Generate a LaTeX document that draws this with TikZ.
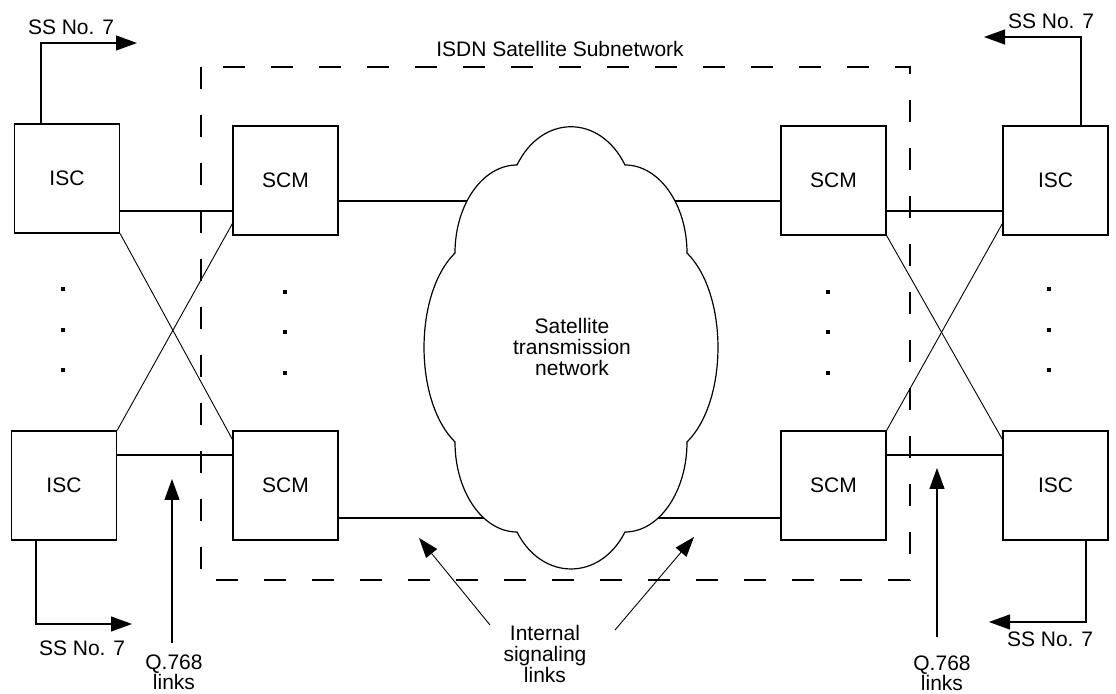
\documentclass[tikz,border=0pt]{standalone}
\usepackage{fontspec}
\setmainfont{Liberation Sans}
\usetikzlibrary{arrows.meta,backgrounds}

\begin{document}
\begin{tikzpicture}[x=0.5pt,y=-0.5pt,
  font=\fontsize{10.5pt}{10.4pt}\selectfont,
  unit/.style={draw,line width=0.65pt,minimum width=52.5pt,minimum height=54.5pt,inner sep=0pt},
  link/.style={line width=0.6pt},
  cross/.style={line width=0.45pt},
  sig/.style={line width=0.6pt,-{Triangle[length=10.5pt,width=7.5pt]}},
  note/.style={line width=0.45pt,-{Triangle[length=10pt,width=7pt]}},
  lbl/.style={inner sep=0pt,align=center},
  subnet/.style={line width=0.65pt,dash pattern=on 11pt off 13pt},
  cloudline/.style={line width=0.6pt,fill=white}
]
\useasboundingbox (0,0) rectangle (1116,694);

% subnetwork boundary and its title
\draw[subnet] (201,67) -- (201,580) -- (910,580) -- (910,67) -- cycle;
\node[lbl,anchor=base] (title) at (560,57) {ISDN Satellite Subnetwork};

% switching centres and satellite control modules
\node[unit] (iscTL) at (67,178.5)   {ISC};
\node[unit] (scmTL) at (285.5,180.5) {SCM};
\node[unit] (iscBL) at (64,485.5)   {ISC};
\node[unit] (scmBL) at (285.5,485.5) {SCM};
\node[unit] (scmTR) at (833.5,180.5) {SCM};
\node[unit] (iscTR) at (1055.5,180.5) {ISC};
\node[unit] (scmBR) at (833.5,485.5) {SCM};
\node[unit] (iscBR) at (1055.5,485.5) {ISC};

% rows of the horizontal links
\coordinate (rowA) at (0,211);
\coordinate (rowB) at (0,201);
\coordinate (rowC) at (0,455);
\coordinate (rowD) at (0,518);

% satellite transmission cloud
\draw[cloudline] (455,253)
  .. controls (455,204.4) and (482.8,165) .. (517,165)
  .. controls (542,114) and (600,114) .. (625,165)
  .. controls (659.2,165) and (687,204.4) .. (687,253)
  .. controls (728.3,294) and (728.3,401) .. (687,442)
  .. controls (687,491.7) and (659.2,532) .. (625,532)
  .. controls (600,581.3) and (542,581.3) .. (517,532)
  .. controls (482.8,532) and (455,491.7) .. (455,442)
  .. controls (413.7,401) and (413.7,294) .. (455,253) -- cycle;
\node[lbl,anchor=north] (cloud) at (572,318) {Satellite\\transmission\\network};

% links between the units
\draw[link] (iscTL.east |- rowA) -- (scmTL.west |- rowA);
\draw[link] (iscBL.east |- rowC) -- (scmBL.west |- rowC);
\draw[link] (scmTR.east |- rowA) -- (iscTR.west |- rowA);
\draw[link] (scmBR.east |- rowC) -- (iscBR.west |- rowC);
\draw[cross] (iscTL.south east) -- ([yshift=-4.5pt]scmBL.north west);
\draw[cross] (iscBL.north east) -- ([yshift=6pt]scmTL.south west);
\draw[cross] (scmTR.south east) -- ([yshift=-4.5pt]iscBR.north west);
\draw[cross] (scmBR.north east) -- ([yshift=6pt]iscTR.south west);

\begin{scope}[on background layer]
  \draw[link] (scmTL.east |- rowB) -- (cloud.center |- rowB);
  \draw[link] (scmTR.west |- rowB) -- (cloud.center |- rowB);
  \draw[link] (scmBL.east |- rowD) -- (cloud.center |- rowD);
  \draw[link] (scmBR.west |- rowD) -- (cloud.center |- rowD);
\end{scope}

% continuation dots
\foreach \x/\y in {63/289,63/330,63/370,285/292,285/332,285/373,
                   828/292,828/332,828/373,1049/289,1049/330,1049/370}
  \fill (\x-1.6,\y-1.6) rectangle (\x+1.6,\y+1.6);

% SS No. 7 signalling
\coordinate (ssTL) at (137,43);
\coordinate (ssBL) at (132,624);
\coordinate (ssTR) at (984,37);
\coordinate (ssBR) at (989,622);
\draw[sig] ([xshift=-13pt]iscTL.north) |- (ssTL);
\draw[sig] ([xshift=-14pt]iscBL.south) |- (ssBL);
\draw[sig] ([xshift=12.75pt]iscTR.north) |- (ssTR);
\draw[sig] ([xshift=15.25pt]iscBR.south) |- (ssBR);
\node[lbl,anchor=base] (ssTLlbl) at (71,35)    {SS No. 7};
\node[lbl,anchor=base] (ssBLlbl) at (82,656)   {SS No. 7};
\node[lbl,anchor=base] (ssTRlbl) at (1051,29)  {SS No. 7};
\node[lbl,anchor=base] (ssBRlbl) at (1050,647) {SS No. 7};

% Q.768 links
\coordinate (qLtail) at (172,643);
\coordinate (qLtip)  at (172,479);
\coordinate (qRtail) at (937,637);
\coordinate (qRtip)  at (937,468);
\draw[sig] (qLtail) -- (qLtip);
\draw[sig] (qRtail) -- (qRtip);
\node[lbl,anchor=north] (qLlbl) at (174,654) {Q.768\\links};
\node[lbl,anchor=north] (qRlbl) at (942,655) {Q.768\\links};

% internal signalling links
\coordinate (iLtail) at (490,625);
\coordinate (iLtip)  at (419,538);
\coordinate (iRtail) at (615,630);
\coordinate (iRtip)  at (694,537);
\draw[note] (iLtail) -- (iLtip);
\draw[note] (iRtail) -- (iRtip);
\node[lbl,anchor=north] (intlbl) at (545,625) {Internal\\signaling\\links};
\end{tikzpicture}
\end{document}
